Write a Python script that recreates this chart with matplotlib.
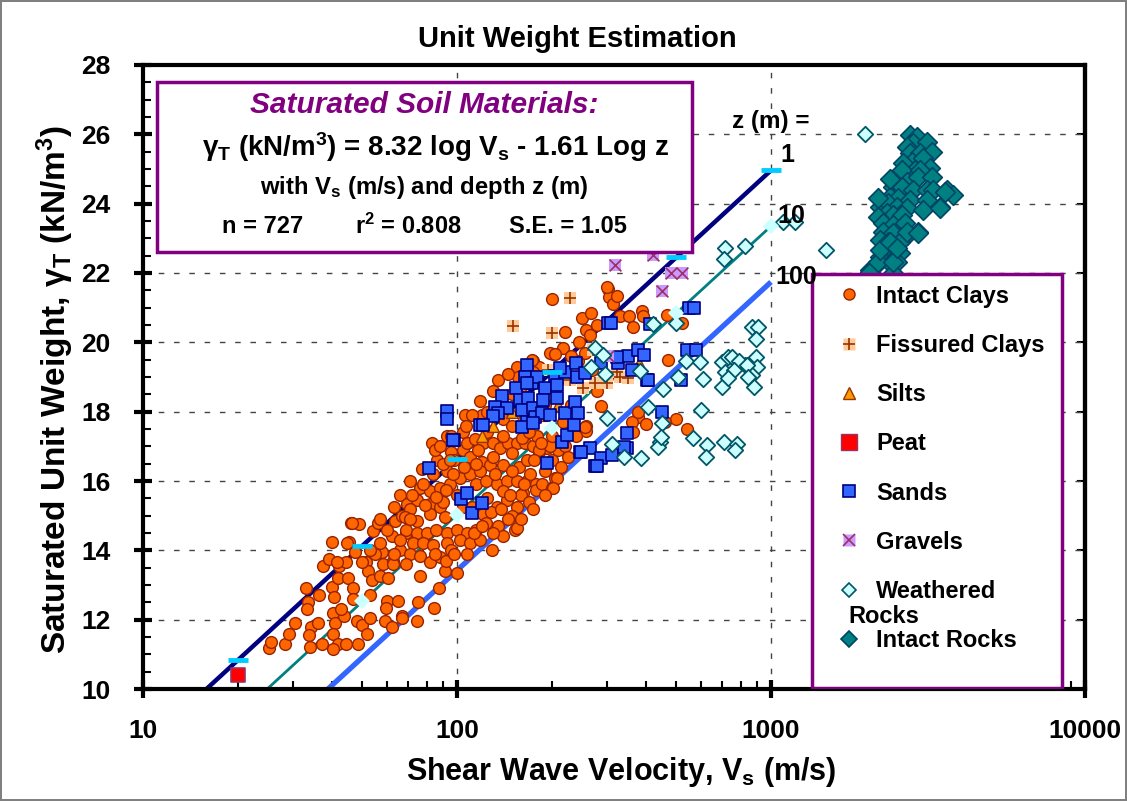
import numpy as np
import matplotlib
matplotlib.use("Agg")
import matplotlib.pyplot as plt
from matplotlib.lines import Line2D
from matplotlib.patches import Rectangle
from matplotlib.legend_handler import HandlerTuple
from matplotlib.ticker import FixedLocator, NullFormatter, LogLocator, FuncFormatter

plt.rcParams["font.family"] = ["Liberation Sans", "DejaVu Sans"]
plt.rcParams["font.weight"] = "bold"
plt.rcParams["mathtext.fontset"] = "custom"
plt.rcParams["mathtext.rm"] = "Liberation Sans:bold"
plt.rcParams["mathtext.bf"] = "Liberation Sans:bold"
plt.rcParams["mathtext.it"] = "Liberation Sans:bold:italic"
plt.rcParams["mathtext.default"] = "rm"

# data: (Vs in m/s, unit weight in kN/m3)
intact_clays = [
    (25.2, 11.18), (25.5, 11.35), (28.3, 11.3), (29.2, 11.6), (30.5, 11.9), (33.1, 12.9), (33.5, 12.5),
    (33.3, 12.3), (34.3, 11.8), (33.8, 11.55), (34, 11.2), (36.1, 11.9), (37.2, 11.3), (36.3, 12.7),
    (37.5, 13.55), (39.1, 13.75), (40, 14.25), (40, 12.95), (40.6, 12.65), (40.3, 12.2), (40.8, 11.9),
    (40.3, 11.6), (41.7, 11.3), (40.3, 11.15), (41.7, 13.2), (42, 13.55), (44.2, 13.65), (44.9, 13.2),
    (43.6, 12.1), (42.7, 12.3), (44.2, 11.3), (45.2, 14.25), (45.9, 14.8), (48.7, 14.75), (46.6, 12.9),
    (46.6, 12.6), (48, 11.95), (48.3, 11.3), (49.7, 11.85), (51.7, 11.6), (51.3, 13.65), (52.1, 13.4),
    (53.5, 13.15), (52.7, 12.7), (52.7, 12.05), (54, 14.55), (56, 14.8), (57.6, 13.95), (58, 13.6),
    (56.9, 13.25), (60.3, 13.2), (62.1, 14.4), (62.6, 13.7), (59.8, 12.55), (59.4, 12.35), (59, 11.95),
    (62.1, 11.8), (64.7, 12.55), (66.6, 12.1), (65.6, 15.6), (62.9, 15.25), (63.4, 14.85), (67, 15.0),
    (65.6, 14.0), (68.9, 14.5), (69.4, 15.35),
    (71, 16.0), (77.6, 16.35), (83.3, 17.1), (86.6, 16.6), (93, 17.3), (106, 17.9), (104.5, 17.4),
    (120, 16.55), (129, 14.0), (153, 14.6), (100, 13.35), (91.5, 13.4), (87.5, 12.9), (84.5, 12.35),
    (75.1, 12.5), (74.6, 11.95), (66.8, 12.05), (76.2, 13.25),
    (107, 17.6), (95.6, 17.3), (104.5, 16.9), (96, 16.85), (107.5, 17.1), (114.5, 17.2), (121, 17.1),
    (130, 17.1), (137, 16.95), (145, 17.1), (155, 17.1), (165, 17.1), (174, 17.0), (183, 16.85),
    (193, 16.95), (56.9, 14.9), (46.2, 14.8), (44.6, 14.2), (47.3, 13.95), (41.4, 13.65), (50, 13.65),
    (155, 14.65), (76, 15.8), (82, 15.7), (88, 15.8), (95, 15.9), (93, 16.3), (102, 16.1), (110, 16.2),
    (115, 15.9), (124, 16.0), (134, 15.9), (144, 16.0), (155, 16.0), (167, 16.0), (179, 15.9), (171, 16.2),
    (158, 16.4), (167, 16.6), (140, 16.45), (127, 16.45), (74.6, 15.45), (82, 15.35), (70.6, 15.2),
    (68.3, 14.95), (74.6, 14.85), (82, 15.05), (88, 15.25), (91.5, 14.95), (104.5, 15.25), (112, 15.25),
    (121, 15.05), (134, 15.25), (144, 15.45), (155, 15.25), (162, 15.65), (179, 15.75), (187, 15.9),
    (69, 14.6), (74.6, 14.5), (80, 14.5), (86, 14.6), (93, 14.5), (100, 14.6), (107.5, 14.5), (115, 14.6),
    (124, 14.8), (72.5, 14.2), (78, 14.2), (84, 14.15), (93, 14.2), (102, 14.3), (110, 14.2), (70.6, 13.9),
    (76, 13.85), (82, 13.65), (69, 13.6), (62.6, 13.6),
    (85, 16.9), (98, 16.6), (110, 16.7), (118, 16.3), (130, 16.7), (150, 16.8), (160, 15.6), (140, 15.7),
    (125, 15.5), (100, 15.6), (90, 15.4), (150, 15.0), (170, 15.4), (190, 16.3), (200, 16.6), (205, 16.1),
    (200, 15.8), (210, 16.9), (135, 14.7), (145, 14.9), (118, 14.3), (96, 14.0), (88, 13.8), (60, 14.6),
    (55, 13.9),
    (200, 21.25), (250, 20.7), (268, 20.85), (302, 21.55), (304, 21.3), (315, 21.1), (330, 20.75),
    (354, 20.75), (363, 20.45), (387, 20.9), (390, 20.75), (258, 20.35), (245, 20.0), (217, 19.85),
    (202, 19.65), (198, 19.7), (287, 18.15), (258, 17.6), (258, 17.45), (377, 17.85), (400, 17.65),
    (360, 17.7), (155, 19.3), (174, 19.45), (183, 19.3), (300, 21.6), (323, 21.35), (470, 19.5),
    (467, 20.8), (520, 20.55), (243, 19.45), (377, 18.0), (500, 17.8), (540, 17.5), (363, 17.4),
    (460, 17.7), (161, 17.25), (180, 17.3), (183, 16.9), (198, 17.0), (218, 17.7), (255, 17.55),
    (173, 19.5), (205, 19.65), (156, 19.0), (174, 19.15), (208, 16.1), (202, 15.8), (150, 18.5),
    (170, 18.0), (190, 18.2), (140, 17.8), (130, 18.6), (120, 17.9), (230, 18.2), (270, 19.2),
    (300, 19.0), (280, 18.6),
    (72, 15.6), (78, 15.9), (84, 16.2), (90, 16.5), (66, 14.3), (71, 14.9), (79, 15.3), (86, 15.55),
    (92, 15.75), (97, 16.2), (63, 13.9), (57, 14.2), (53, 14.0), (85, 13.9), (92, 13.7), (98, 13.9),
    (108, 13.9), (113, 14.5), (120, 14.7), (128, 15.1), (138, 15.2), (148, 15.6), (163, 15.9), (176, 16.6),
    (185, 17.1), (150, 16.3), (132, 16.2), (117, 16.9), (125, 17.4), (112, 17.9), (118, 18.3), (135, 18.9),
    (145, 19.1), (160, 18.7), (125, 18.0), (140, 17.3), (150, 17.6), (115, 16.5), (105, 16.4), (95, 16.6),
    (88, 17.0), (170, 17.4), (200, 17.3), (220, 17.0), (230, 17.4), (210, 18.9), (240, 19.0), (255, 19.7),
    (230, 19.6), (220, 20.3), (265, 20.2), (280, 20.5), (240, 17.3), (215, 16.4), (225, 16.7), (190, 15.6),
    (175, 15.2), (160, 14.9), (140, 14.4), (130, 14.5),
]

fissured_clays = [
    (229, 21.28), (151, 20.47), (201, 20.27), (271, 19.78), (195, 19.2), (252, 18.68), (275, 18.83),
    (300, 18.83), (330, 19.0), (350, 18.97), (323, 19.14), (229, 18.91), (208, 18.83), (215, 19.1),
]

silts = [
    (150, 18.0), (160, 17.8), (172, 18.3), (185, 17.9), (130, 17.6), (210, 18.2), (380, 19.4),
    (140, 18.3), (195, 18.5), (120, 17.3),
]

peat = [(20, 10.4)]

sands = [
    (92.9, 18.02), (92.9, 17.79), (97.8, 17.18), (81.5, 16.37), (103, 15.48), (111.6, 15.08), (120, 15.36),
    (107.6, 15.65), (167, 19.35), (165, 19.0), (154, 18.68), (139, 18.45), (132, 18.13), (144, 18.1),
    (135, 17.96), (130, 17.87), (159, 18.34), (173, 18.83), (180, 19.0), (191, 18.68), (205, 19.03),
    (208, 18.77), (221, 19.14), (239, 19.4), (241, 19.0), (256, 19.11), (213, 19.26), (167, 18.83),
    (168, 18.39), (161, 18.05), (175, 18.1), (188, 18.34), (208, 18.39), (167, 17.7), (177, 17.85),
    (187, 17.96), (198, 17.9), (221, 17.96), (238, 18.28), (243, 17.96), (161, 17.56), (175, 17.67),
    (216, 17.12), (224, 17.33), (236, 17.61), (118.4, 17.61), (121, 17.61), (97.1, 17.18), (246, 16.84),
    (265, 16.95), (287, 16.66), (312, 16.75), (348, 17.38), (348, 16.95), (275, 16.43), (193, 16.52),
    (303, 20.56), (287, 19.4), (326, 19.4), (350, 19.6), (377, 19.78), (394, 19.63), (403, 18.91),
    (309, 20.56), (412, 20.53), (548, 20.99), (569, 20.99), (540, 19.78), (577, 19.78), (516, 18.91),
    (450, 17.99), (323, 19.58), (361, 19.2), (406, 18.91), (340, 16.98), (279, 16.43), (248, 16.84),
]

gravels = [(318, 22.23), (421, 22.52), (481, 22.0), (521, 22.0), (450, 21.48), (303, 19.6)]

weathered_rocks = [
    (1991, 26.0), (1092, 23.47), (1191, 23.47), (1495, 22.65), (714, 22.72), (709, 22.4), (826, 22.78),
    (275, 19.84), (292, 19.63), (267, 19.29), (296, 19.09), (383, 19.17), (421, 20.53), (498, 20.56),
    (453, 18.65), (536, 19.46), (594, 19.43), (506, 19.0), (607, 18.94), (698, 18.71), (698, 19.43),
    (730, 19.58), (714, 19.14), (779, 19.43), (826, 19.35), (896, 19.58), (902, 19.29), (870, 19.06),
    (882, 18.71), (870, 20.44), (909, 20.44), (896, 20.1), (300, 17.82), (406, 18.13), (450, 17.67),
    (599, 18.05), (312, 17.07), (340, 16.69), (386, 16.66), (443, 17.12), (436, 16.98), (564, 17.24),
    (625, 17.04), (621, 16.69), (709, 17.12), (779, 17.07), (768, 16.89), (751, 19.58), (791, 19.46),
    (839, 19.35), (763, 19.2), (730, 18.97), (845, 19.0), (446, 17.27),
]

intact_rocks = [
    (2770, 25.98), (2917, 25.92), (2830, 25.75), (2710, 25.63), (3140, 25.78), (2770, 25.46), (2985, 25.46),
    (3257, 25.49), (2810, 25.2), (3050, 25.32), (2630, 25.17), (2875, 24.97), (3210, 25.03), (2612, 24.97),
    (2985, 24.97), (2710, 24.62), (2940, 24.77), (3257, 24.77), (2447, 24.48), (2612, 24.48), (2830, 24.39),
    (3140, 24.39), (3280, 24.39), (3637, 24.39), (3800, 24.25), (2393, 24.19), (2537, 24.16), (2770, 24.1),
    (3140, 24.1), (2223, 23.9), (2360, 24.02), (2520, 23.9), (2710, 23.87), (3050, 23.82), (3455, 23.9),
    (2340, 23.73), (2447, 23.67), (2612, 23.67), (2193, 23.61), (2273, 23.44), (2447, 23.38), (2672, 23.44),
    (2273, 23.18), (2447, 23.15), (2710, 23.1), (2940, 23.18), (2223, 22.95), (2360, 22.89), (2575, 22.89),
    (2273, 22.72), (2447, 22.6), (2575, 22.58), (2223, 22.46), (2520, 22.32), (2193, 22.29), (2393, 22.29),
    (2065, 22.09), (2447, 22.0), (2065, 22.03), (2193, 22.32), (2447, 22.32), (2223, 22.66), (2393, 22.89),
    (2520, 22.72), (2710, 23.18), (2940, 23.15), (2193, 24.16), (2393, 24.7), (3455, 23.87), (3582, 24.33),
]

# regression: gamma = 8.32 log Vs - 1.61 log z
coef_vs = 8.32
coef_z = 1.61
depths = [1, 10, 100]
line_vs = [10, 1000]
mark_vs = [20, 50, 100, 200, 500, 1000]

fig = plt.figure(figsize=(11.27, 8.01), dpi=100)
fig.patch.set_edgecolor("#808080")
fig.patch.set_linewidth(1.5)
ax = fig.add_axes([0.1269, 0.1398, 0.8358, 0.7791])
ax.set_xscale("log")
ax.set_xlim(10, 10000)
ax.set_ylim(10, 28)

# grid
for yv in range(12, 28, 2):
    ax.axhline(yv, color="#444444", lw=1.0, ls=(0, (4, 7)), zorder=1)
for xv in [100, 1000]:
    ax.axvline(xv, color="#444444", lw=1.0, ls=(0, (4, 7)), zorder=1)

# regression lines
line_styles = [("#000080", 3.2), ("#008080", 2.0), ("#3366FF", 3.8)]
for z, (col, lw) in zip(depths, line_styles):
    vs = np.array(line_vs, dtype=float)
    ax.plot(vs, coef_vs * np.log10(vs) - coef_z * np.log10(z), color=col, lw=lw, zorder=2,
            solid_capstyle="butt")
mv = np.array(mark_vs, dtype=float)
ax.plot(mv, coef_vs * np.log10(mv), ls="none", marker="_", ms=15, mew=3.5, color="#00CCFF", zorder=6)
ax.plot(mv, coef_vs * np.log10(mv) - coef_z, ls="none", marker="D", ms=8, mew=0,
        color="#CCFFFF", zorder=6)


def xy(pts):
    a = np.array(pts, dtype=float)
    return a[:, 0], a[:, 1]


S = 72
x, y = xy(intact_clays)
ax.scatter(x, y, s=S, marker="o", c="#FF6600", edgecolors="#992200", linewidths=1.0, zorder=3)
x, y = xy(fissured_clays)
ax.scatter(x, y, s=S, marker="s", c="#FFCC99", edgecolors="none", zorder=3)
ax.scatter(x, y, s=S, marker="+", c="#993300", linewidths=1.2, zorder=3)
x, y = xy(silts)
ax.scatter(x, y, s=S, marker="^", c="#FF9900", edgecolors="#993300", linewidths=1.0, zorder=3)
x, y = xy(peat)
ax.scatter(x, y, s=110, marker="s", c="#FF0000", edgecolors="#993366", linewidths=1.2, zorder=3)
x, y = xy(sands)
ax.scatter(x, y, s=80, marker="s", c="#3366FF", edgecolors="#000080", linewidths=1.2, zorder=4)
x, y = xy(gravels)
ax.scatter(x, y, s=S, marker="s", c="#CC99FF", edgecolors="none", zorder=4)
ax.scatter(x, y, s=S, marker="x", c="#993366", linewidths=1.2, zorder=4)
x, y = xy(weathered_rocks)
ax.scatter(x, y, s=62, marker="D", c="#CCFFFF", edgecolors="#005566", linewidths=1.3, zorder=5)
x, y = xy(intact_rocks)
ax.scatter(x, y, s=100, marker="D", c="#008080", edgecolors="#004466", linewidths=1.2, zorder=5)

# axes styling
for sp in ax.spines.values():
    sp.set_linewidth(3)
ax.set_yticks(np.arange(10, 29, 2))
ax.yaxis.set_minor_locator(FixedLocator(np.arange(10, 28.01, 0.5)))
ax.xaxis.set_major_locator(LogLocator(base=10, numticks=10))
ax.xaxis.set_minor_locator(LogLocator(base=10, subs=np.arange(2, 10), numticks=20))
ax.xaxis.set_minor_formatter(NullFormatter())
ax.xaxis.set_major_formatter(FuncFormatter(lambda v, p: f"{v:g}"))
ax.tick_params(axis="both", which="major", direction="inout", length=13, width=3,
               labelsize=19, top=False)
ax.tick_params(axis="x", which="major", pad=15)
ax.tick_params(axis="y", which="major", pad=17)
ax.tick_params(axis="both", which="minor", direction="in", length=6, width=1.5)
ax.tick_params(axis="y", which="minor", right=False)
ax.tick_params(axis="x", which="minor", top=False)
for lab in ax.get_xticklabels() + ax.get_yticklabels():
    lab.set_fontweight("bold")
# short inward ticks on the right spine
rax = ax.secondary_yaxis("right")
rax.set_yticks(np.arange(10, 29, 2))
rax.tick_params(direction="in", length=6, width=1.5, labelright=False)
rax.spines["right"].set_linewidth(3)

# labels
fig.text(577 / 1127, 1 - 39 / 801, "Unit Weight Estimation", ha="center", va="center",
         fontsize=21, fontweight="bold")
fig.text(621 / 1127, 1 - 772 / 801, "Shear Wave Velocity, V$_\\mathregular{s}$ (m/s)",
         ha="center", va="center", fontsize=22, fontweight="bold")
fig.text(55 / 1127, 1 - 390 / 801, "Saturated Unit Weight, γ$_\\mathregular{T}$ (kN/m$^\\mathregular{3}$)",
         ha="center", va="center", rotation=90, fontsize=24, fontweight="bold")

# equation box
ax.add_patch(Rectangle((0.0149, 0.700), 0.568, 0.273, transform=ax.transAxes, fc="white",
                       ec="#800080", lw=2.5, zorder=7))
bx = 0.2985
ax.text(bx, 0.936, "Saturated Soil Materials:", transform=ax.transAxes, ha="center", va="center",
        fontsize=21.5, fontweight="bold", style="italic", color="#800080", zorder=8)
ax.text(0.311, 0.868, "γ$_\\mathregular{T}$ (kN/m$^\\mathregular{3}$) = 8.32 log V$_\\mathregular{s}$ - 1.61 Log z",
        transform=ax.transAxes, ha="center", va="center", fontsize=20, fontweight="bold", zorder=8)
ax.text(bx, 0.803, "with V$_\\mathregular{s}$ (m/s) and depth z (m)", transform=ax.transAxes,
        ha="center", va="center", fontsize=17.2, fontweight="bold", zorder=8)
ax.text(0.127, 0.741, "n = 727", transform=ax.transAxes, ha="center", va="center",
        fontsize=17, fontweight="bold", zorder=8)
ax.text(0.282, 0.741, "r$^\\mathregular{2}$ = 0.808", transform=ax.transAxes, ha="center", va="center",
        fontsize=17, fontweight="bold", zorder=8)
ax.text(0.451, 0.741, "S.E. = 1.05", transform=ax.transAxes, ha="center", va="center",
        fontsize=17, fontweight="bold", zorder=8)

# depth labels
ax.text(0.666, 0.909, "z (m) =", transform=ax.transAxes, ha="center", va="center", fontsize=17.5,
        fontweight="bold", zorder=8)
ax.text(0.684, 0.856, "1", transform=ax.transAxes, ha="center", va="center", fontsize=18,
        fontweight="bold", zorder=8)
ax.text(0.688, 0.758, "10", transform=ax.transAxes, ha="center", va="center", fontsize=18,
        fontweight="bold", zorder=8)
ax.text(0.694, 0.660, "100", transform=ax.transAxes, ha="center", va="center", fontsize=18,
        fontweight="bold", zorder=8)

# legend
ax.add_patch(Rectangle((0.710, 0.002), 0.266, 0.663, transform=ax.transAxes, fc="white",
                       ec="#800080", lw=2.5, zorder=7))
h_clay = Line2D([], [], ls="none", marker="o", ms=8, mfc="#FF6600", mec="#992200")
h_fis = (Line2D([], [], ls="none", marker="s", ms=9, mfc="#FFCC99", mec="none"),
         Line2D([], [], ls="none", marker="+", ms=9, mec="#993300", mew=1.2))
h_silt = Line2D([], [], ls="none", marker="^", ms=9, mfc="#FF9900", mec="#993300")
h_peat = Line2D([], [], ls="none", marker="s", ms=11, mfc="#FF0000", mec="#993366")
h_sand = Line2D([], [], ls="none", marker="s", ms=8, mfc="#3366FF", mec="#000080", mew=1.2)
h_grav = (Line2D([], [], ls="none", marker="s", ms=8, mfc="#CC99FF", mec="none"),
          Line2D([], [], ls="none", marker="x", ms=8, mec="#993366", mew=1.2))
h_wr = Line2D([], [], ls="none", marker="D", ms=7, mfc="#CCFFFF", mec="#005566", mew=1.2)
h_ir = Line2D([], [], ls="none", marker="D", ms=8, mfc="#008080", mec="#004466", mew=1.2)
leg = ax.legend([h_clay, h_fis, h_silt, h_peat, h_sand, h_grav, h_wr, h_ir],
                ["Intact Clays", "Fissured Clays", "Silts", "Peat", "Sands", "Gravels", "Weathered",
                 "Intact Rocks"],
                loc="upper left", bbox_to_anchor=(0.727, 0.663), frameon=False, fontsize=17,
                labelspacing=1.11, handlelength=1.0, handletextpad=0.65, borderpad=0.4,
                borderaxespad=0, handler_map={tuple: HandlerTuple(ndivide=1, pad=0)})
leg.set_zorder(8)
for t in leg.get_texts():
    t.set_fontweight("bold")
ax.text(0.7485, 0.117, "Rocks", transform=ax.transAxes, ha="left", va="center", fontsize=17,
        fontweight="bold", zorder=9)

fig.savefig("out.png", dpi=100)
